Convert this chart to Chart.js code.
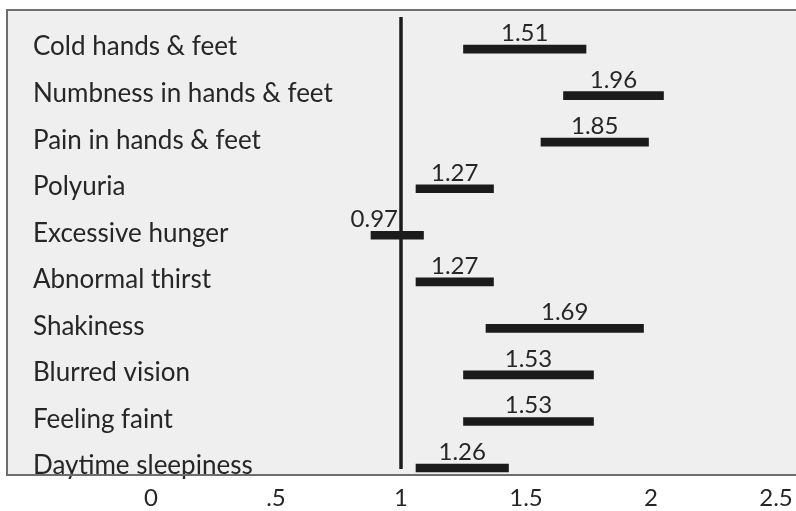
<!DOCTYPE html>
<html>
<head>
<meta charset="utf-8">
<script src="https://cdn.jsdelivr.net/npm/chart.js@4.4.1/dist/chart.umd.min.js"></script>
<style>
  html, body { margin: 0; padding: 0; background: #ffffff; }
  #wrap { width: 796px; height: 511px; }
</style>
</head>
<body>
<div id="wrap"><canvas id="chart" width="796" height="511"></canvas></div>
<script>
// Symptoms, top to bottom
const categories = [
  'Cold hands & feet',
  'Numbness in hands & feet',
  'Pain in hands & feet',
  'Polyuria',
  'Excessive hunger',
  'Abnormal thirst',
  'Shakiness',
  'Blurred vision',
  'Feeling faint',
  'Daytime sleepiness'
];
// Odds ratios and their 95% confidence limits
const oddsRatios = [1.51, 1.96, 1.85, 1.27, 0.97, 1.27, 1.69, 1.53, 1.53, 1.26];
const ciLower    = [1.25, 1.65, 1.56, 1.06, 0.88, 1.06, 1.34, 1.25, 1.25, 1.06];
const ciUpper    = [1.74, 2.05, 1.99, 1.37, 1.09, 1.37, 1.97, 1.77, 1.77, 1.43];
// Horizontal axis ticks
const xTickValues = [0, 0.5, 1, 1.5, 2, 2.5];
const xTickLabels = ['0', '.5', '1', '1.5', '2', '2.5'];
// Reference line (no effect)
const referenceValue = 1;

const FONT = 'Lato, "Open Sans", sans-serif';
const TEXT = '#262626';
const INK = '#1b1b1b';

const intervals = categories.map((c, i) => ({ y: i, x: [ciLower[i], ciUpper[i]] }));

// no extra room reserved for edge labels; fixed axis band height
function fitXAxis(scale) {
  scale.paddingTop = 0;
  scale.paddingBottom = 0;
  scale.paddingLeft = 0;
  scale.paddingRight = 0;
  scale.height = 33;
}

// Light grey panel with a grey frame (open on the right)
const panel = {
  id: 'panel',
  beforeDraw(chart) {
    const { ctx, chartArea: a } = chart;
    ctx.save();
    ctx.fillStyle = '#efefef';
    ctx.fillRect(a.left, a.top, a.right - a.left + 4, a.bottom - a.top);
    ctx.restore();
  },
  afterDraw(chart) {
    const { ctx, chartArea: a } = chart;
    ctx.save();
    ctx.strokeStyle = '#6e6e6e';
    ctx.lineWidth = 2;
    ctx.beginPath();
    ctx.moveTo(a.right + 4, a.top);
    ctx.lineTo(a.left, a.top);
    ctx.lineTo(a.left, a.bottom);
    ctx.lineTo(a.right + 4, a.bottom);
    ctx.stroke();
    ctx.restore();
  }
};

// Symptom names inside the panel, one per row
const rowLabels = {
  id: 'rowLabels',
  afterDatasetsDraw(chart) {
    const { ctx, chartArea: a, scales: { y } } = chart;
    ctx.save();
    ctx.font = '26px ' + FONT;
    ctx.fillStyle = TEXT;
    ctx.textAlign = 'left';
    ctx.textBaseline = 'middle';
    categories.forEach((name, i) => {
      ctx.fillText(name, a.left + 26, y.getPixelForValue(i) - 2);
    });
    ctx.restore();
  }
};

// Vertical line at OR = 1
const refLine = {
  id: 'refLine',
  beforeDatasetsDraw(chart) {
    const { ctx, chartArea: a, scales: { x } } = chart;
    const px = x.getPixelForValue(referenceValue);
    ctx.save();
    ctx.strokeStyle = INK;
    ctx.lineWidth = 3.5;
    ctx.beginPath();
    ctx.moveTo(px, a.top + 7);
    ctx.lineTo(px, a.bottom - 6);
    ctx.stroke();
    ctx.restore();
  }
};

// Odds ratio printed above each interval
const orLabels = {
  id: 'orLabels',
  afterDatasetsDraw(chart) {
    const { ctx, scales: { x } } = chart;
    const refPx = x.getPixelForValue(referenceValue);
    const meta = chart.getDatasetMeta(0);
    ctx.save();
    ctx.font = '24px ' + FONT;
    ctx.fillStyle = TEXT;
    ctx.textBaseline = 'alphabetic';
    ctx.textAlign = 'left';
    meta.data.forEach((bar, i) => {
      const text = oddsRatios[i].toFixed(2);
      const w = ctx.measureText(text).width;
      const cx = (bar.x + bar.base) / 2;
      let left = cx - w / 2;
      // keep the number clear of the reference line
      if (left < refPx + 3 && left + w > refPx - 3) left = refPx - 3 - w;
      ctx.fillText(text, left, bar.y - bar.height / 2 - 4);
    });
    ctx.restore();
  }
};

const chart = new Chart(document.getElementById('chart'), {
  type: 'bar',
  data: {
    datasets: [{
      data: intervals,
      backgroundColor: INK,
      borderWidth: 0,
      barThickness: 8
    }]
  },
  options: {
    indexAxis: 'y',
    responsive: false,
    devicePixelRatio: 1,
    animation: false,
    layout: { padding: { left: 7, top: 10, right: 0, bottom: 3 } },
    plugins: { legend: { display: false }, tooltip: { enabled: false } },
    scales: {
      x: {
        type: 'linear',
        min: -0.576,
        max: 2.58,
        grid: { display: false, drawTicks: false },
        border: { display: false },
        afterBuildTicks(scale) { scale.ticks = xTickValues.map(v => ({ value: v })); },
        afterFit: fitXAxis,
        ticks: {
          padding: 9,
          color: TEXT,
          font: { family: FONT, size: 24 },
          maxRotation: 0,
          autoSkip: false,
          callback: (v) => xTickLabels[xTickValues.indexOf(v)]
        }
      },
      y: {
        type: 'linear',
        display: false,
        reverse: true,
        offset: false,
        min: -0.84,
        max: 9.15,
        grid: { display: false }
      }
    }
  },
  plugins: [panel, refLine, orLabels, rowLabels]
});
</script>
</body>
</html>
